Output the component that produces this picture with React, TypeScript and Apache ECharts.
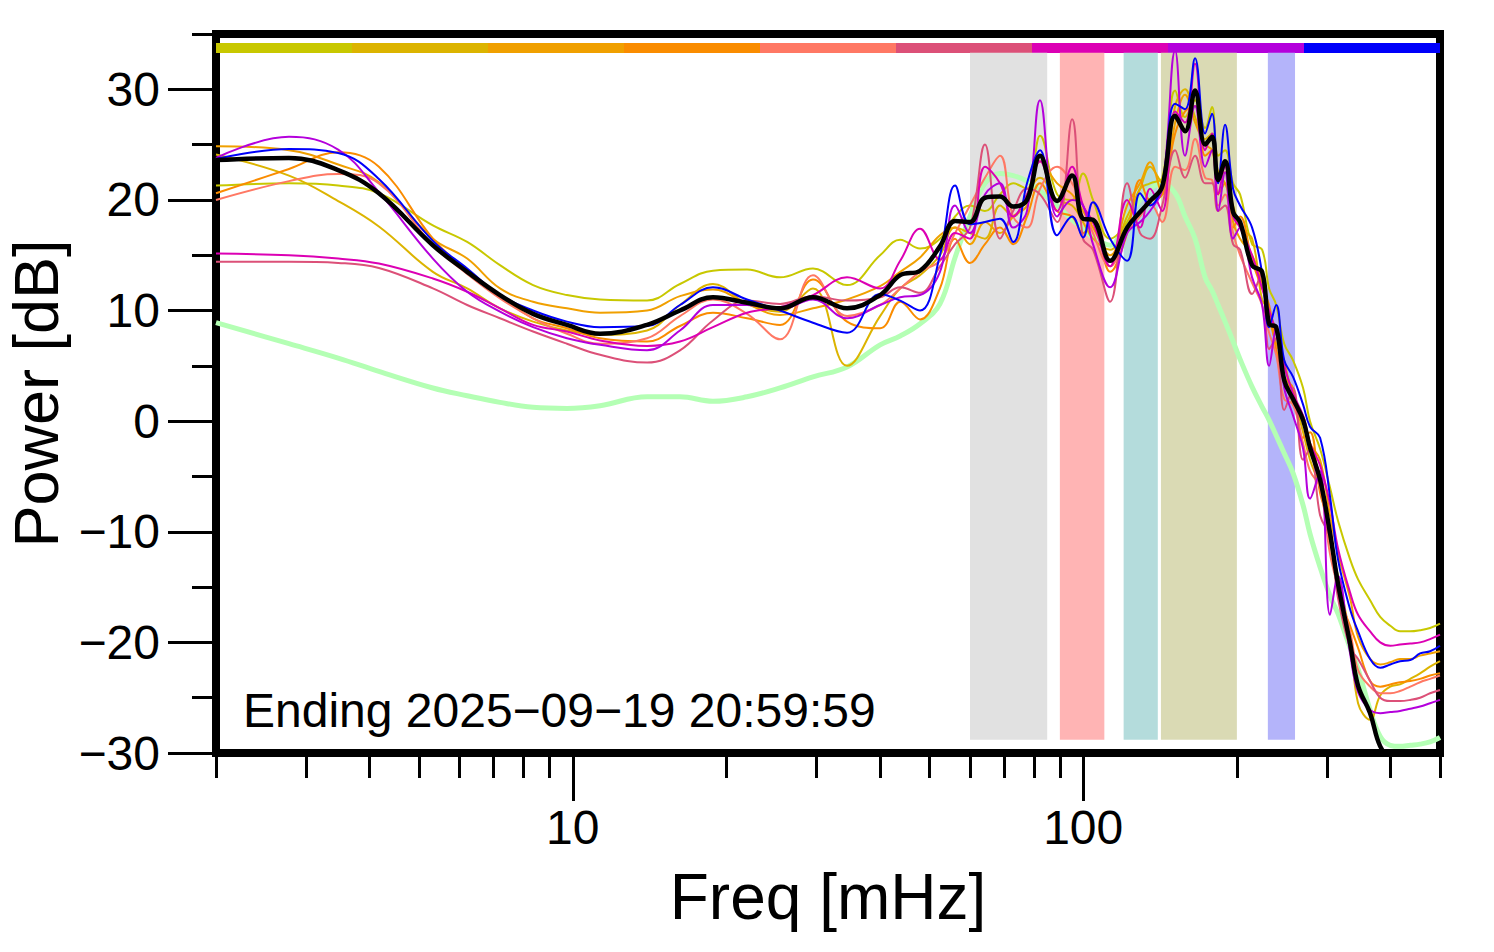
import React, { useEffect, useRef } from "react";
import * as echarts from "echarts";

// Frequencies (mHz) at which all spectra are sampled
const FREQ = [2, 2.78, 3.47, 4.17, 5.32, 6.21, 7.2, 8.36, 9.74, 11.31, 13.98, 16.22, 18.82, 21.95, 25.47, 29.55, 34.46, 40, 43.8, 47.9, 52.4, 56.1, 60, 64.2, 68.7, 72.9, 77.6, 82.3, 88.9, 95.1, 99.9, 104.5, 112.9, 121.9, 129.2, 135.2, 142.8, 151.4, 158.3, 165.6, 173.3, 178.8, 183.8, 189.6, 196.6, 202.9, 214.2, 224.1, 231.3, 238.8, 247.6, 257.7, 269.6, 278.2, 291.1, 304.4, 315.6, 333.3, 345.5, 364.8, 381.8, 399.5, 417.5, 437.3, 457, 478.1, 500];

// Power (dB) per spectrum
const S1 = [21.3, 21.5, 21.3, 20.6, 17.7, 16.2, 14.1, 12.3, 11.4, 11.0, 10.9, 12.4, 13.6, 13.7, 13.0, 13.8, 12.3, 15.0, 16.4, 15.6, 16.5, 18.5, 19.5, 19.0, 20.5, 21.5, 21.0, 25.8, 20.5, 20.0, 22.4, 20.0, 16.5, 18.0, 21.0, 21.5, 22.0, 29.9, 27.5, 29.0, 26.5, 28.4, 24.0, 24.5, 21.5, 20.5, 16.0, 15.5, 12.0, 10.5, 7.0, 5.5, 3.0, 0.0, -2.5, -6.0, -9.0, -12.5, -14.3, -16.2, -17.7, -18.5, -19.0, -19.0, -18.9, -18.7, -18.3];
const S2 = [24.1, 22.2, 19.9, 17.6, 13.5, 12.0, 10.2, 9.0, 8.2, 7.8, 8.2, 10.5, 12.4, 10.6, 9.9, 12.0, 5.0, 9.5, 12.0, 13.2, 15.0, 17.5, 17.0, 16.5, 19.5, 18.5, 20.5, 22.0, 20.0, 19.5, 18.0, 16.5, 15.5, 18.5, 21.0, 23.0, 21.5, 28.5, 30.0, 27.5, 25.5, 26.0, 22.5, 21.5, 19.5, 17.5, 16.5, 11.0, 10.0, 8.0, 5.0, 2.5, -1.0, -3.5, -6.0, -11.0, -14.0, -19.5, -25.5, -27.0, -24.8, -24.0, -23.8, -23.3, -22.8, -22.2, -21.7];
const S3 = [24.85, 24.5, 23.2, 21.6, 16.5, 14.7, 12.0, 10.8, 10.2, 9.8, 10.0, 11.3, 11.9, 10.6, 9.6, 10.2, 11.0, 12.2, 13.5, 14.8, 16.8, 17.5, 16.0, 18.0, 17.0, 18.5, 19.5, 23.5, 21.5, 20.5, 19.0, 17.5, 15.0, 19.5, 21.5, 23.4, 20.5, 27.0, 29.5, 27.0, 25.0, 24.5, 22.0, 22.5, 18.0, 16.5, 15.0, 12.5, 9.5, 7.0, 5.5, 1.5, 0.5, -2.0, -3.5, -8.5, -12.0, -16.0, -19.5, -21.5, -22.0, -21.8, -21.5, -21.5, -21.2, -21.0, -20.8];
const S4 = [20.6, 22.8, 24.3, 23.0, 16.5, 13.6, 11.4, 9.3, 8.4, 7.5, 7.2, 8.6, 9.8, 9.3, 8.7, 12.8, 9.0, 8.4, 10.8, 9.2, 12.0, 16.5, 14.3, 16.0, 17.5, 16.0, 18.5, 21.5, 19.0, 18.5, 17.0, 18.0, 13.5, 17.0, 21.8, 20.0, 20.5, 26.0, 28.0, 28.5, 24.0, 24.5, 20.5, 21.5, 17.5, 18.5, 14.5, 12.0, 10.5, 6.5, 4.0, 3.0, -1.5, -1.0, -6.5, -9.5, -15.5, -18.5, -20.5, -23.5, -24.0, -23.8, -23.6, -23.5, -23.3, -23.0, -22.8];
const S5 = [20.0, 21.7, 22.35, 21.5, 15.9, 13.3, 11.1, 9.3, 7.9, 7.0, 7.5, 9.5, 11.0, 9.7, 7.4, 13.2, 9.5, 10.5, 12.0, 13.5, 14.5, 17.0, 19.5, 22.0, 24.0, 18.5, 17.5, 21.0, 23.0, 21.5, 19.5, 17.0, 14.0, 17.0, 18.5, 19.7, 18.0, 23.0, 22.7, 25.5, 22.0, 21.8, 19.5, 20.5, 17.0, 15.0, 12.5, 10.5, 8.0, 6.0, 2.0, 1.5, -2.0, -4.5, -6.0, -12.0, -15.0, -19.0, -22.5, -24.0, -24.6, -24.6, -24.4, -24.0, -23.6, -23.3, -23.0];
const S6 = [14.4, 14.4, 14.3, 13.85, 12.0, 10.5, 9.3, 8.1, 7.0, 6.0, 5.3, 6.4, 9.1, 10.9, 10.6, 11.3, 10.9, 11.2, 12.1, 11.6, 14.0, 16.0, 17.5, 25.0, 16.5, 19.0, 21.0, 20.5, 18.0, 27.3, 16.5, 15.5, 10.8, 21.5, 17.0, 16.5, 19.5, 24.5, 22.0, 24.0, 21.5, 21.5, 19.0, 19.5, 16.0, 15.5, 11.5, 13.5, 6.5, 7.5, 1.0, 3.0, -3.5, -2.5, -8.5, -10.5, -16.0, -20.5, -21.5, -23.5, -25.0, -25.3, -25.3, -25.2, -25.0, -24.6, -24.3];
const S7 = [15.15, 15.0, 14.7, 14.25, 12.9, 11.7, 10.2, 8.7, 8.1, 7.3, 6.8, 7.2, 8.5, 9.8, 10.3, 11.4, 13.0, 12.0, 14.5, 17.4, 14.6, 17.0, 16.5, 23.0, 21.5, 18.5, 20.5, 23.5, 19.0, 23.0, 19.5, 18.0, 14.0, 20.0, 17.5, 21.0, 19.0, 28.0, 27.0, 32.3, 24.5, 26.0, 20.5, 23.0, 18.5, 17.5, 15.0, 12.0, 10.0, 8.0, 5.0, 2.5, 0.5, -2.0, -4.0, -7.5, -11.5, -15.5, -17.5, -19.0, -20.0, -20.3, -20.2, -20.1, -20.0, -19.7, -19.3];
const S8 = [23.8, 25.7, 24.55, 20.7, 14.7, 11.7, 9.9, 8.5, 7.5, 6.9, 6.4, 8.2, 10.5, 10.5, 10.1, 11.0, 9.3, 10.5, 11.2, 11.4, 13.5, 19.5, 17.0, 20.5, 21.5, 17.5, 19.0, 29.0, 18.5, 20.0, 19.5, 16.0, 12.1, 17.0, 18.0, 19.0, 21.0, 33.5, 24.0, 28.5, 23.0, 24.5, 19.0, 22.5, 16.5, 17.5, 13.0, 10.5, 5.0, 8.5, 3.0, 0.5, -2.5, -7.0, -4.5, -17.5, -14.0, -21.0, -24.5, -26.1, -26.4, -26.3, -26.2, -26.0, -25.8, -25.5, -25.2];
const S9 = [23.7, 24.6, 24.25, 21.9, 16.3, 13.8, 11.4, 10.0, 9.0, 8.5, 8.6, 10.5, 12.1, 11.0, 10.0, 8.9, 8.0, 11.5, 10.9, 10.0, 15.0, 21.3, 17.8, 18.0, 18.3, 16.2, 21.5, 24.5, 16.8, 18.5, 16.6, 19.8, 16.5, 14.5, 20.6, 19.5, 21.5, 28.7, 28.2, 32.8, 26.0, 27.8, 21.5, 26.8, 21.0, 19.5, 17.5, 13.4, 8.5, 10.5, 5.5, 4.0, 1.5, -0.5, -1.5, -6.8, -12.5, -17.0, -19.0, -21.5, -22.3, -22.0, -21.7, -21.6, -21.0, -20.8, -20.3];
const MEAN = [23.6, 23.8, 22.7, 20.6, 15.9, 13.5, 11.4, 9.7, 8.7, 7.9, 8.7, 10.0, 11.2, 10.7, 10.2, 11.2, 10.2, 11.4, 13.2, 13.6, 15.8, 18.1, 18.0, 20.2, 20.3, 19.4, 20.0, 24.0, 19.9, 22.2, 18.3, 18.2, 14.5, 17.5, 18.9, 19.9, 21.2, 27.6, 26.2, 29.9, 25.0, 25.7, 21.8, 23.5, 18.9, 18.0, 14.1, 13.5, 8.8, 8.5, 3.7, 2.0, 0.1, -2.4, -5.3, -10.1, -14.7, -20.1, -23.9, -26.4, -29.4, -30.3, -30.4, -30.5, -30.4, -30.4, -30.3];
const REFERENCE = [8.9, 7.0, 5.7, 4.5, 3.0, 2.3, 1.7, 1.25, 1.15, 1.4, 2.2, 2.2, 1.8, 2.2, 3.0, 4.0, 4.9, 6.9, 7.7, 8.8, 10.6, 14.8, 18.5, 21.5, 22.4, 22.2, 21.7, 20.8, 19.5, 18.2, 17.4, 16.6, 15.9, 18.5, 20.0, 21.0, 21.5, 20.6, 18.5, 16.5, 13.0, 11.8, 10.5, 9.0, 7.2, 5.6, 3.1, 1.3, 0.1, -1.3, -2.9, -4.7, -7.6, -10.2, -13.2, -15.8, -17.4, -20.5, -22.4, -26.1, -28.5, -29.3, -29.4, -29.3, -29.2, -29.0, -28.6];

const SPECTRA = [S1, S2, S3, S4, S5, S6, S7, S8, S9];
const SPECTRA_COLORS = ["#c8c800", "#dcb400", "#f0a000", "#fa8c00", "#ff7864", "#dc5078", "#dc00b4", "#b400dc", "#0000fa"];

// Shaded frequency bands (mHz) and their dB span
const BAND_RANGES = [[60, 85], [90, 110], [120, 140], [142, 200], [230, 260]];
const BAND_COLORS = ["#e1e1e1", "#ffb4b4", "#b4dcdc", "#dadab4", "#b4b4fa"];
const BAND_DB = [-28.8, 33.3];

// Axis ticks / labels
const X_LABELS = [10, 100];
const X_MINOR_TICKS = [2, 3, 4, 5, 6, 7, 8, 9, 20, 30, 40, 50, 60, 70, 80, 90, 200, 300, 400, 500];
const Y_LABELS = [-30, -20, -10, 0, 10, 20, 30];
const Y_MINOR_TICKS = [-25, -15, -5, 5, 15, 25, 35];

const ANNOTATION = "Ending 2025\u221209\u221219 20:59:59";

const FONT = "'Liberation Sans', Arial, Helvetica, sans-serif";
const GRID = { left: 216, right: 54, top: 34, bottom: 199 };
const W = 1494;
const H = 952;

const fmt = (v: number) => (v < 0 ? "\u2212" + Math.abs(v) : String(Math.round(v)));

export default function App() {
  const ref = useRef<HTMLDivElement>(null);
  useEffect(() => {
    if (!ref.current) return;
    const chart = echarts.init(ref.current, null, { renderer: "svg" });
    const plotW = W - GRID.left - GRID.right;
    const segW = plotW / SPECTRA_COLORS.length;
    const tickLine = { color: "#000", width: 3 };
    const xBase = {
      type: "log" as const,
      logBase: 10,
      min: 2,
      max: 500,
      position: "bottom" as const,
      axisLine: { show: false, onZero: false },
      splitLine: { show: false },
    };
    const yBase = {
      type: "value" as const,
      min: -30,
      max: 35,
      position: "left" as const,
      axisLine: { show: false, onZero: false },
      splitLine: { show: false },
    };
    chart.setOption({
      animation: false,
      backgroundColor: "#ffffff",
      grid: {
        ...GRID,
        show: true,
        borderColor: "#000",
        borderWidth: 8,
        backgroundColor: "transparent",
        containLabel: false,
        outerBoundsMode: "none",
      },
      xAxis: [
        {
          ...xBase,
          axisTick: { show: true, customValues: X_MINOR_TICKS, length: 25, lineStyle: tickLine },
          axisLabel: {
            customValues: X_LABELS,
            formatter: (v: number) => fmt(v),
            fontSize: 48,
            color: "#000",
            fontFamily: FONT,
            margin: 50,
          },
          name: "Freq [mHz]",
          nameLocation: "middle",
          nameGap: 112,
          nameTextStyle: { fontSize: 64, color: "#000", fontFamily: FONT },
        },
        {
          ...xBase,
          axisTick: { show: true, customValues: X_LABELS, length: 48, lineStyle: tickLine },
          axisLabel: { show: false },
        },
      ],
      yAxis: [
        {
          ...yBase,
          axisTick: { show: true, customValues: Y_MINOR_TICKS, length: 24, lineStyle: tickLine },
          axisLabel: {
            customValues: Y_LABELS,
            formatter: (v: number) => fmt(v),
            fontSize: 48,
            color: "#000",
            fontFamily: FONT,
            margin: 56,
          },
          name: "Power [dB]",
          nameLocation: "middle",
          nameGap: 147,
          nameTextStyle: { fontSize: 63, color: "#000", fontFamily: FONT },
        },
        {
          ...yBase,
          axisTick: { show: true, customValues: Y_LABELS, length: 48, lineStyle: tickLine },
          axisLabel: { show: false },
        },
      ],
      graphic: [
        ...SPECTRA_COLORS.map((c, i) => ({
          type: "rect",
          shape: { x: GRID.left + i * segW, y: 43, width: segW, height: 10 },
          style: { fill: c },
          silent: true,
          z: 0,
        })),
        {
          type: "text",
          x: 243,
          y: 710,
          style: {
            text: ANNOTATION,
            fontSize: 48,
            fontFamily: FONT,
            fill: "#000",
            align: "left",
            verticalAlign: "middle",
          },
          silent: true,
          z: 10,
        },
      ],
      series: [
        {
          type: "line",
          name: "reference",
          data: FREQ.map((f, i) => [f, REFERENCE[i]]),
          showSymbol: false,
          smooth: 0.4,
          lineStyle: { color: "#b4ffb4", width: 5 },
          itemStyle: { color: "#b4ffb4" },
          z: 2,
          silent: true,
          markArea: {
            silent: true,
            data: BAND_RANGES.map((r, i) => [
              { xAxis: r[0], yAxis: BAND_DB[0], itemStyle: { color: BAND_COLORS[i], opacity: 1 } },
              { xAxis: r[1], yAxis: BAND_DB[1] },
            ]),
          },
        },
        ...SPECTRA.map((s, k) => ({
          type: "line",
          name: "s" + (k + 1),
          data: FREQ.map((f, i) => [f, s[i]]),
          showSymbol: false,
          smooth: 0.4,
          lineStyle: { color: SPECTRA_COLORS[k], width: 2 },
          itemStyle: { color: SPECTRA_COLORS[k] },
          z: 3,
          silent: true,
        })),
        {
          type: "line",
          name: "mean",
          data: FREQ.map((f, i) => [f, MEAN[i]]),
          showSymbol: false,
          smooth: 0.4,
          lineStyle: { color: "#000", width: 4.5 },
          itemStyle: { color: "#000" },
          z: 4,
          silent: true,
        },
      ],
    });
    return () => chart.dispose();
  }, []);
  return (
    <div
      ref={ref}
      style={{ position: "fixed", left: 0, top: 0, width: W, height: H, background: "#fff" }}
    />
  );
}
